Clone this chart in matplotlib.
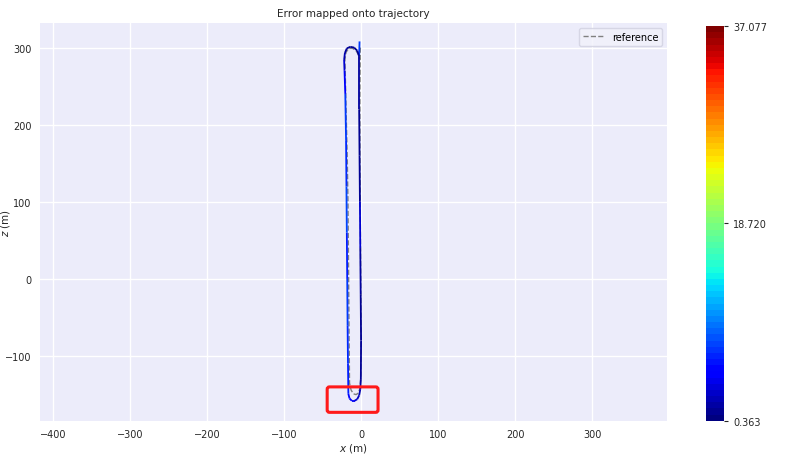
import numpy as np
import matplotlib
matplotlib.use("Agg")
import matplotlib.pyplot as plt
from matplotlib.collections import LineCollection
from matplotlib.patches import FancyBboxPatch
import matplotlib.colors as mcolors

# Estimated trajectory (x, z in m) and per-point error
est_x = [-2.0, -2.5, -2.5, -2.0, -1.5, -1.0, -0.5, 0.0, -0.3, -1.0, -2.5, -5.0,
         -8.5, -12.0, -15.0, -16.5, -17.0, -17.5, -18.0, -18.5, -19.0, -19.5,
         -20.5, -21.5, -22.0, -21.0, -18.5, -14.0, -9.0, -5.0, -3.0]
est_z = [308, 290, 220, 160, 100, 40, -20, -80, -130, -143, -151, -156,
         -158, -158, -155, -149, -110, -60, 0, 60, 120, 180,
         240, 270, 284, 293, 299, 301, 300, 296, 290]
est_err = [7.0, 1.5, 1.0, 1.2, 3.0, 1.5, 1.0, 1.2, 1.5, 2.0, 2.5, 3.0,
           4.0, 4.5, 5.0, 6.0, 6.5, 7.0, 6.0, 7.5, 6.5, 7.0,
           5.0, 3.0, 2.0, 1.5, 1.2, 1.0, 1.0, 1.0, 1.0]

# Reference trajectory
ref_x = [-1.0, -1.5, -1.5, -1.0, -0.5, 0.0, -0.5, -1.5, -3.5, -6.5, -10.0,
         -13.0, -15.0, -15.5, -16.0, -16.5, -17.0, -18.0, -19.5, -20.5, -21.0,
         -19.5, -16.0, -11.0, -6.5, -3.5, -2.0]
ref_z = [300, 240, 160, 80, 0, -80, -130, -142, -148, -150, -149,
         -144, -135, -80, -20, 40, 100, 160, 220, 265, 285,
         294, 299, 299, 296, 291, 285]

err_min, err_mid, err_max = 0.363, 18.720, 37.077
x_ticks = [-400, -300, -200, -100, 0, 100, 200, 300]
z_ticks = [-100, 0, 100, 200, 300]

plt.rcParams['font.family'] = ['DejaVu Sans']
fig = plt.figure(figsize=(7.95, 4.6), dpi=100)
ax = fig.add_axes([0.050, 0.083, 0.789, 0.865])
ax.set_facecolor('#ECECFA')
for s in ax.spines.values():
    s.set_visible(False)
ax.grid(True, color='white', linewidth=1.0)
ax.set_axisbelow(True)

ax.plot(ref_x, ref_z, linestyle='--', color='gray', linewidth=1.0, label='reference', zorder=2)

pts = np.column_stack([est_x, est_z])
segs = np.stack([pts[:-1], pts[1:]], axis=1)
norm = mcolors.Normalize(vmin=err_min, vmax=err_max)
lc = LineCollection(segs, cmap='jet', norm=norm, linewidth=1.3, zorder=3)
lc.set_array(np.array(est_err[:-1]))
ax.add_collection(lc)

ax.set_xlim(-417, 397)
ax.set_ylim(-184, 332)
ax.set_xticks(x_ticks)
ax.set_yticks(z_ticks)
ax.tick_params(axis='both', length=0, labelsize=7, pad=6, labelcolor='#262626')
ax.set_xlabel('$x$ (m)', fontsize=7.5, labelpad=1, color='#262626')
ax.set_ylabel('$z$ (m)', fontsize=7.5, color='#262626')
ax.yaxis.set_label_coords(-0.044, 0.5)
ax.set_title('Error mapped onto trajectory', fontsize=7.5, color='#262626', pad=5)

leg = ax.legend(loc='upper right', fontsize=7, frameon=True, handlelength=2.2)
leg.get_frame().set_facecolor('#F2F2FA')
leg.get_frame().set_edgecolor('#d0d0e0')

# red highlight box
box = FancyBboxPatch((-44, -173), 66, 33, boxstyle='round,pad=0,rounding_size=3',
                     fill=False, edgecolor='#ff1a1a', linewidth=2.2, zorder=5)
ax.add_patch(box)

cax = fig.add_axes([0.888, 0.083, 0.023, 0.858])
sm = plt.cm.ScalarMappable(norm=norm, cmap=plt.get_cmap('jet', 64))
cb = fig.colorbar(sm, cax=cax, ticks=[err_min, err_mid, err_max], format='%.3f')
cb.outline.set_visible(False)
cax.tick_params(labelsize=7, length=3, width=0.8, color='#262626', labelcolor='#262626')

fig.savefig('out.png', dpi=100)
